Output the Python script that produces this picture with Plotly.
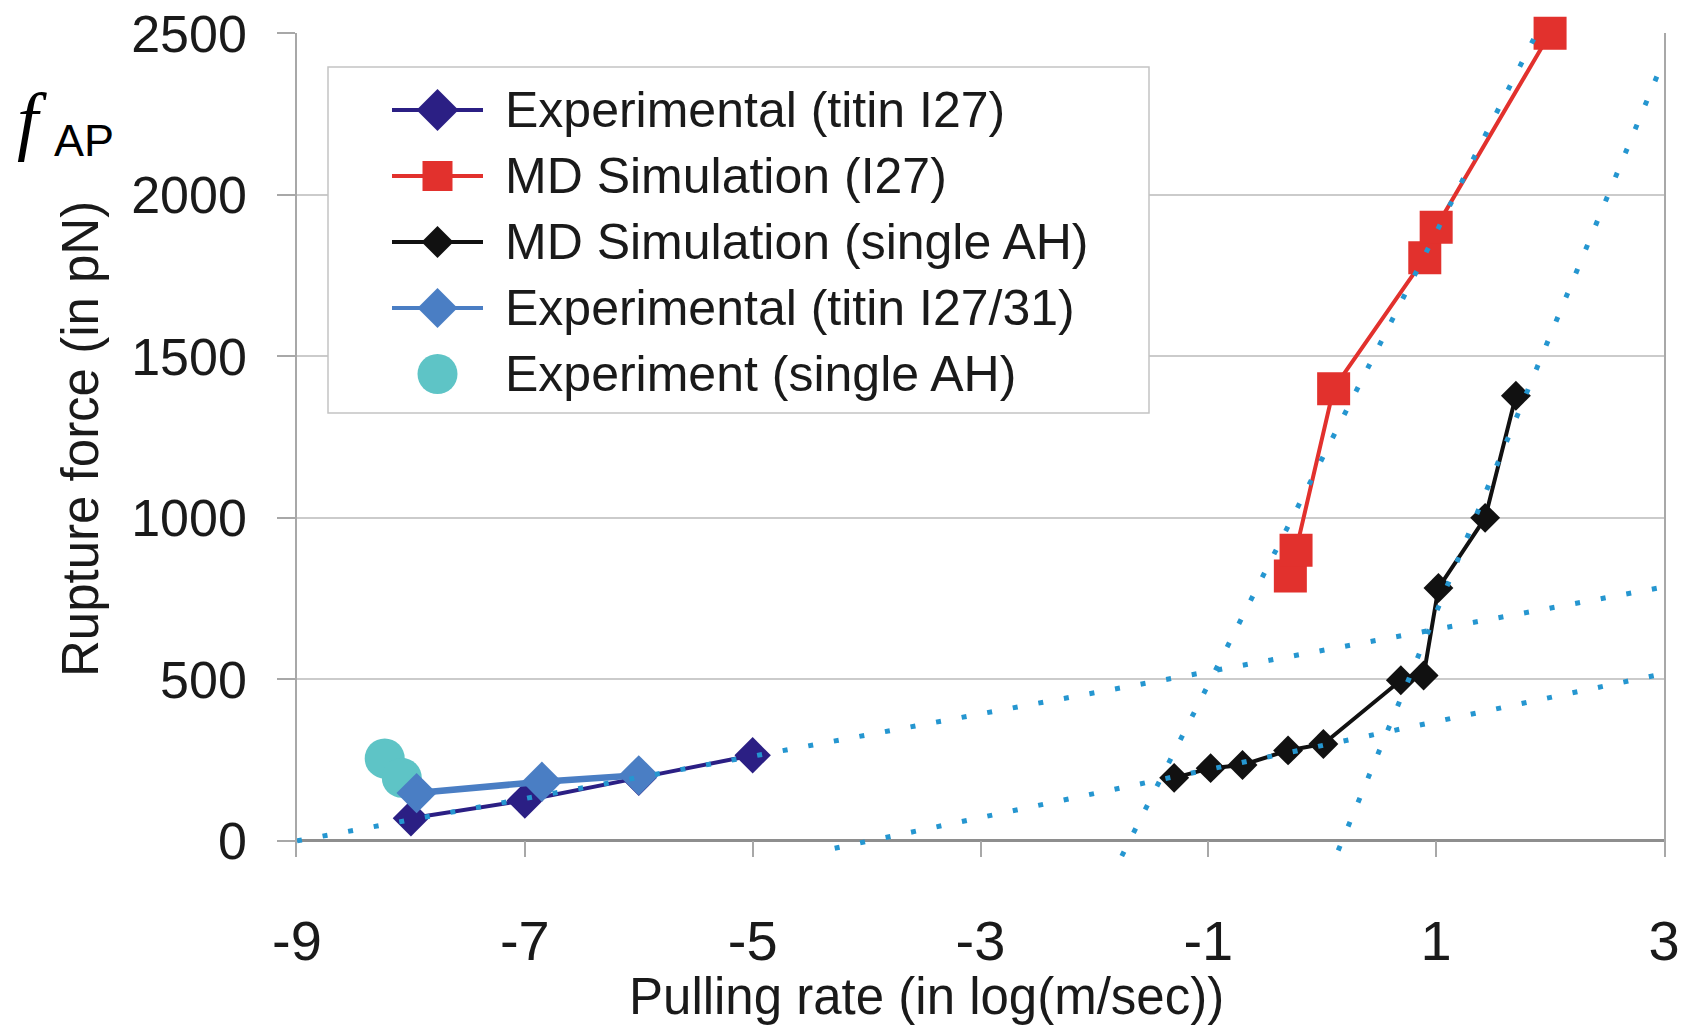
import plotly.graph_objects as go

# ---------------- data ----------------
exp_i27_x = [-8.0, -7.0, -6.0, -5.0]
exp_i27_y = [70, 125, 195, 265]

exp_i2731_x = [-7.95, -6.85, -6.0]
exp_i2731_y = [148, 183, 203]

exp_ah_x = [-8.23, -8.08]
exp_ah_y = [255, 195]

md_i27_x = [-0.28, -0.23, 0.10, 0.90, 1.00, 2.00]
md_i27_y = [820, 900, 1400, 1805, 1900, 2500]

md_ah_x = [-1.30, -0.98, -0.70, -0.30, 0.01, 0.69, 0.89, 1.02, 1.43, 1.70]
md_ah_y = [195, 225, 235, 280, 300, 497, 512, 783, 1000, 1378]

trend1_x = [-9.0, 3.0]
trend1_y = [0, 786]
trend2_x = [-4.28, 3.0]
trend2_y = [-23, 518]
trend3_x = [-1.76, 1.96]
trend3_y = [-47, 2555]
trend4_x = [0.14, 3.0]
trend4_y = [-30, 2420]

x_ticks = [-9, -7, -5, -3, -1, 1, 3]
y_ticks = [0, 500, 1000, 1500, 2000, 2500]

legend_names = ["Experimental (titin I27)", "MD Simulation (I27)",
                "MD Simulation (single AH)", "Experimental (titin I27/31)",
                "Experiment (single AH)"]

# ---------------- styles ----------------
NAVY = "#2b1f84"
RED = "#e2312d"
BLACK = "#111111"
BLUE = "#4a7ec4"
CYAN = "#5ec4c6"
DOT = "#2596d0"
FONT = "Liberation Sans, Arial, sans-serif"

W, H = 1684, 1027
ML, MR, MT, MB = 297, 20, 33, 170
PW = W - ML - MR
PH = H - MT - MB


def xp(px):
    return (px - ML) / PW


def yp(py):
    return (H - MB - py) / PH


fig = go.Figure()

fig.add_trace(go.Scatter(x=exp_ah_x, y=exp_ah_y, mode="markers",
                         marker=dict(symbol="circle", size=40, color=CYAN),
                         name=legend_names[4], showlegend=False))
fig.add_trace(go.Scatter(x=exp_i27_x, y=exp_i27_y, mode="lines+markers",
                         line=dict(color=NAVY, width=4),
                         marker=dict(symbol="diamond", size=28, color=NAVY),
                         name=legend_names[0], showlegend=False))
fig.add_trace(go.Scatter(x=exp_i2731_x, y=exp_i2731_y, mode="lines+markers",
                         line=dict(color=BLUE, width=6.5),
                         marker=dict(symbol="diamond", size=31, color=BLUE),
                         name=legend_names[3], showlegend=False))
fig.add_trace(go.Scatter(x=md_i27_x, y=md_i27_y, mode="lines+markers",
                         line=dict(color=RED, width=4),
                         marker=dict(symbol="square", size=33, color=RED),
                         cliponaxis=False,
                         name=legend_names[1], showlegend=False))
fig.add_trace(go.Scatter(x=md_ah_x, y=md_ah_y, mode="lines+markers",
                         line=dict(color=BLACK, width=4),
                         marker=dict(symbol="diamond", size=23, color=BLACK),
                         name=legend_names[2], showlegend=False))

for tx, ty in [(trend1_x, trend1_y), (trend2_x, trend2_y),
               (trend3_x, trend3_y), (trend4_x, trend4_y)]:
    fig.add_trace(go.Scatter(x=tx, y=ty, mode="lines",
                             line=dict(color=DOT, width=5, dash="5px,21px"),
                             hoverinfo="skip", showlegend=False))

# ---------------- custom legend ----------------
shapes = []
annotations = []
shapes.append(dict(type="rect", xref="paper", yref="paper",
                   x0=xp(328), x1=xp(1149), y0=yp(413), y1=yp(67),
                   line=dict(color="#c4c4c4", width=1.5), fillcolor="white",
                   layer="above"))
rows = [110, 176, 242, 308, 374]
lx0, lx1, lcx = 392, 483, 437.5
row_style = [
    (NAVY, "diamond", 21, 4),
    (RED, "square", 15, 4),
    (BLACK, "diamond", 16, 4),
    (BLUE, "diamond", 20, 4),
    (CYAN, "circle", 20, 0),
]
for ry, (col, sym, half, lw), name in zip(rows, row_style, legend_names):
    if lw > 0:
        shapes.append(dict(type="line", xref="paper", yref="paper",
                           x0=xp(lx0), x1=xp(lx1), y0=yp(ry), y1=yp(ry),
                           line=dict(color=col, width=lw), layer="above"))
    if sym == "diamond":
        path = (f"M {xp(lcx)},{yp(ry - half)} L {xp(lcx + half)},{yp(ry)} "
                f"L {xp(lcx)},{yp(ry + half)} L {xp(lcx - half)},{yp(ry)} Z")
        shapes.append(dict(type="path", xref="paper", yref="paper", path=path,
                           fillcolor=col, line=dict(width=0), layer="above"))
    elif sym == "square":
        shapes.append(dict(type="rect", xref="paper", yref="paper",
                           x0=xp(lcx - half), x1=xp(lcx + half),
                           y0=yp(ry + half), y1=yp(ry - half),
                           fillcolor=col, line=dict(width=0), layer="above"))
    else:
        shapes.append(dict(type="circle", xref="paper", yref="paper",
                           x0=xp(lcx - half), x1=xp(lcx + half),
                           y0=yp(ry + half), y1=yp(ry - half),
                           fillcolor=col, line=dict(width=0), layer="above"))
    annotations.append(dict(xref="paper", yref="paper", x=xp(503), y=yp(ry),
                            xanchor="left", yanchor="middle", showarrow=False,
                            text=name, font=dict(family=FONT, size=50, color="#1a1a1a")))

# axis titles and f_AP label
annotations.append(dict(xref="paper", yref="paper", x=xp(926), y=yp(996),
                        xanchor="center", yanchor="middle", showarrow=False,
                        text="Pulling rate (in log(m/sec))",
                        font=dict(family=FONT, size=51, color="#1a1a1a")))
annotations.append(dict(xref="paper", yref="paper", x=xp(80), y=yp(439),
                        xanchor="center", yanchor="middle", showarrow=False,
                        textangle=-90, text="Rupture force (in pN)",
                        font=dict(family=FONT, size=51, color="#1a1a1a")))
annotations.append(dict(xref="paper", yref="paper", x=xp(32), y=yp(120),
                        xanchor="center", yanchor="middle", showarrow=False,
                        text="<i>f</i>",
                        font=dict(family="Liberation Serif, Times New Roman, serif",
                                  size=76, color="black")))
annotations.append(dict(xref="paper", yref="paper", x=xp(84), y=yp(140),
                        xanchor="center", yanchor="middle", showarrow=False,
                        text="AP", font=dict(family=FONT, size=45, color="black")))

fig.update_layout(
    width=W, height=H,
    margin=dict(l=ML, r=MR, t=MT, b=MB, autoexpand=False),
    paper_bgcolor="white", plot_bgcolor="white",
    showlegend=False,
    shapes=shapes, annotations=annotations,
    xaxis=dict(range=[-9, 3], tickvals=x_ticks, ticktext=[str(v) for v in x_ticks],
               automargin=False,
               showgrid=False, zeroline=False, showline=False,
               ticks="inside", ticklen=16, tickwidth=1.5, tickcolor="#a8a8a8",
               ticklabelstandoff=46,
               tickfont=dict(family=FONT, size=56, color="#1a1a1a")),
    yaxis=dict(range=[-50, 2501], tickvals=y_ticks, ticktext=[str(v) for v in y_ticks],
               automargin=False,
               showgrid=True, gridcolor="#cbcbcb", gridwidth=1.5,
               zeroline=True, zerolinecolor="#8e8e8e", zerolinewidth=2.5,
               showline=True, linecolor="#a8a8a8", linewidth=1.5, mirror=True,
               ticks="outside", ticklen=18, tickwidth=1.5, tickcolor="#a8a8a8",
               ticklabelstandoff=20,
               tickfont=dict(family=FONT, size=52, color="#1a1a1a")),
)

fig.write_html("out.html")
